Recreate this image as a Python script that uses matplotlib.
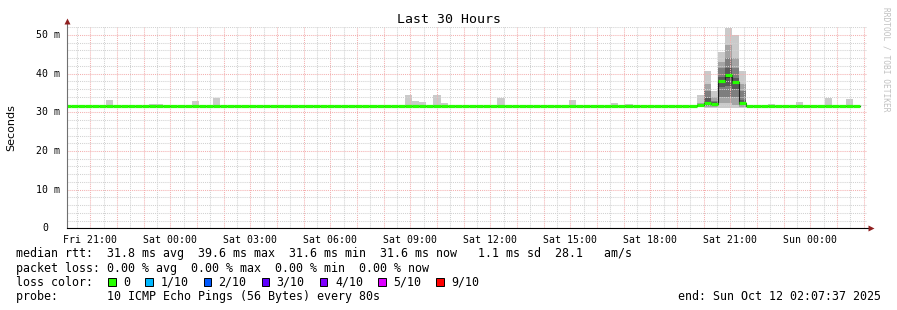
import datetime as dt
import numpy as np
import matplotlib
matplotlib.use("Agg")
import matplotlib.pyplot as plt
import matplotlib.dates as mdates
from matplotlib.patches import Rectangle
from matplotlib.ticker import MultipleLocator, FuncFormatter, NullFormatter
from matplotlib.transforms import blended_transform_factory, offset_copy

W, H = 897, 310
MONO = "DejaVu Sans Mono"

# time frame of the graph
end_time = dt.datetime(2025, 10, 12, 2, 7, 37)
first_bin = dt.datetime(2025, 10, 10, 20, 0)
last_bin = dt.datetime(2025, 10, 12, 1, 36)
bin_minutes = 16

# median rtt (ms) along the flat part of the line
base_rtt = 31.6

# bins where only the slowest ping stood out above the median
bump_bins = ["2025-10-10 21:36", "2025-10-10 23:12", "2025-10-10 23:28",
             "2025-10-11 00:48", "2025-10-11 01:36", "2025-10-11 08:48",
             "2025-10-11 09:04", "2025-10-11 09:20", "2025-10-11 09:52",
             "2025-10-11 10:08", "2025-10-11 12:16", "2025-10-11 14:56",
             "2025-10-11 16:32", "2025-10-11 17:04", "2025-10-11 22:24",
             "2025-10-11 23:28", "2025-10-12 00:32", "2025-10-12 01:20"]
bump_max = [33.2, 32.1, 32.1, 32.9, 33.8, 34.5, 32.9, 32.6, 34.5,
            32.4, 33.7, 33.2, 32.4, 32.1, 32.1, 32.6, 33.7, 33.4]

# the evening spike: median and the 10 sorted pings per bin
spike_bins = ["2025-10-11 19:44", "2025-10-11 20:00", "2025-10-11 20:16",
              "2025-10-11 20:32", "2025-10-11 20:48", "2025-10-11 21:04",
              "2025-10-11 21:20"]
spike_median = [31.8, 32.5, 32.2, 38.0, 39.6, 37.8, 32.5]
spike_pings = [
    [31.5, 31.6, 31.6, 31.7, 31.8, 31.8, 31.9, 32.0, 32.3, 34.5],
    [31.1, 31.4, 31.7, 32.0, 32.3, 32.7, 33.6, 35.4, 37.3, 40.7],
    [31.1, 31.4, 31.7, 31.9, 32.1, 32.3, 32.6, 33.0, 34.0, 35.5],
    [31.1, 32.3, 34.0, 36.6, 37.7, 38.3, 39.2, 41.4, 43.1, 45.7],
    [31.1, 32.3, 34.0, 36.8, 39.0, 39.7, 41.4, 44.0, 47.4, 51.9],
    [31.1, 31.9, 34.0, 36.0, 37.4, 38.2, 38.8, 41.4, 44.0, 50.0],
    [31.2, 31.4, 31.7, 32.0, 32.3, 32.7, 33.2, 35.4, 37.3, 40.7],
]

ytick_values = [0, 10, 20, 30, 40, 50]
ytick_labels = ["0  ", "10 m", "20 m", "30 m", "40 m", "50 m"]

legend_lines = [
    "median rtt:  31.8 ms avg  39.6 ms max  31.6 ms min  31.6 ms now   1.1 ms sd  28.1   am/s",
    "packet loss: 0.00 % avg  0.00 % max  0.00 % min  0.00 % now",
    "loss color:",
    "probe:       10 ICMP Echo Pings (56 Bytes) every 80s",
]
loss_labels = ["0", "1/10", "2/10", "3/10", "4/10", "5/10", "9/10"]
loss_colors = ["#26ff00", "#00b8ff", "#0059ff", "#5e00ff", "#7e00ff", "#dd00ff", "#ff0000"]
smoke_shades = ["#cacaca", "#a4a4a4", "#7e7e7e", "#585858", "#323232"]

# build per-bin series
step = dt.timedelta(minutes=bin_minutes)
n_bins = int((last_bin - first_bin) / step) + 1
bin_start = [first_bin + k * step for k in range(n_bins)]
median = [base_rtt] * n_bins
pings = [[base_rtt] * 10 for _ in range(n_bins)]

for t, top in zip(bump_bins, bump_max):
    k = bin_start.index(dt.datetime.strptime(t, "%Y-%m-%d %H:%M"))
    pings[k][-1] = top
for t, m, p in zip(spike_bins, spike_median, spike_pings):
    k = bin_start.index(dt.datetime.strptime(t, "%Y-%m-%d %H:%M"))
    median[k] = m
    pings[k] = p

fig = plt.figure(figsize=(W / 100, H / 100), dpi=100)
ax = fig.add_axes([67 / W, 1 - 228.3 / H, 800 / W, 201.8 / H])

x0 = mdates.date2num(bin_start)
width = bin_minutes / 1440

# smoke: nested bands, outermost lightest
for i, shade in enumerate(smoke_shades):
    lo = np.array([p[i] for p in pings])
    hi = np.array([p[9 - i] for p in pings])
    ax.bar(x0, hi - lo, bottom=lo, width=width, align="edge",
           color=shade, linewidth=0, zorder=1)

edges = np.append(x0, x0[-1] + width)
ax.step(edges, median + [median[-1]], where="post", color="#202020", lw=0.8, zorder=3)
ax.hlines(median, x0, x0 + width, color=loss_colors[0], lw=2.3, zorder=4)

ax.set_xlim(mdates.date2num(end_time - dt.timedelta(hours=30)), mdates.date2num(end_time))
ax.set_ylim(0, 52.2)

# grid: red every hour / 10 ms, grey every 30 min / 2 ms
ax.xaxis.set_major_locator(mdates.HourLocator())
ax.xaxis.set_minor_locator(mdates.MinuteLocator(byminute=[30]))


def hour_label(v, pos):
    d = mdates.num2date(v)
    return d.strftime("%a %H:%M") if d.hour % 3 == 0 else ""


ax.xaxis.set_major_formatter(FuncFormatter(hour_label))
ax.yaxis.set_major_locator(MultipleLocator(10))
ax.yaxis.set_minor_locator(MultipleLocator(2))
ax.yaxis.set_major_formatter(NullFormatter())

ax.set_axisbelow(False)
ax.grid(which="major", color="#f4b0b0", lw=0.75, ls=(0, (1, 1)), zorder=2)
ax.grid(which="minor", color="#d2d2d2", lw=0.75, ls=(0, (1, 1)), zorder=2)

ax.tick_params(which="both", length=0)
ax.tick_params(axis="x", which="major", pad=5, labelsize=7.1)
for lab in ax.get_xticklabels():
    lab.set_family(MONO)

for s in ax.spines.values():
    s.set_visible(False)

# axes with arrow heads
ax.plot([0, 0], [0, 1.02], transform=ax.transAxes, color="#707070", lw=0.8,
        clip_on=False, zorder=5)
ax.plot([0, 1.004], [0, 0], transform=ax.transAxes, color="black", lw=0.8,
        clip_on=False, zorder=5)
ax.plot([0], [1.025], transform=ax.transAxes, marker="^", ms=4, color="#902020",
        clip_on=False, zorder=6, mec="none")
ax.plot([1.0045], [0], transform=ax.transAxes, marker=">", ms=4, color="#902020",
        clip_on=False, zorder=6, mec="none")

# y tick labels, mono spaced so "0" lines up with the tens digit
char_pt = 0.602 * 7.1
ytrans = blended_transform_factory(ax.transAxes, ax.transData)
for v, s in zip(ytick_values, ytick_labels):
    text = s.rstrip()
    trailing = len(s) - len(text)
    tr = offset_copy(ytrans, fig=fig, x=-(5 + trailing * char_pt), y=0, units="points")
    ax.text(0, v, text, transform=tr, ha="right", va="center",
            family=MONO, fontsize=7.1)

ax.set_ylabel("Seconds", fontsize=8, family="DejaVu Sans", labelpad=33)

fig.text(0.5, 1 - 19.5 / H, "Last 30 Hours", ha="center", va="center",
         family=MONO, fontsize=9.5)
fig.text(886 / W, 1 - 59 / H, "RRDTOOL / TOBI OETIKER", rotation=270,
         ha="center", va="center", family=MONO, fontsize=5.7, color="#c0c0c0")

# legend block
line_y = [254, 268.2, 282.3, 296.4]
for y, s in zip(line_y, legend_lines):
    fig.text(16 / W, 1 - y / H, s, ha="left", va="center", family=MONO, fontsize=8.4)

char_px = 7.05
bx = 108.3
for lab, col in zip(loss_labels, loss_colors):
    fig.patches.append(Rectangle((bx / W, 1 - 285.8 / H), 7.5 / W, 7.5 / H,
                                 transform=fig.transFigure, facecolor=col,
                                 edgecolor="black", lw=0.7))
    fig.text((bx + 15) / W, 1 - 282.3 / H, lab, ha="left", va="center",
             family=MONO, fontsize=8.4)
    bx += 15 + len(lab) * char_px + 15

fig.text(881 / W, 1 - 296.4 / H, "end: Sun Oct 12 02:07:37 2025", ha="right",
         va="center", family=MONO, fontsize=8.4)

fig.savefig("out.png", dpi=100)
